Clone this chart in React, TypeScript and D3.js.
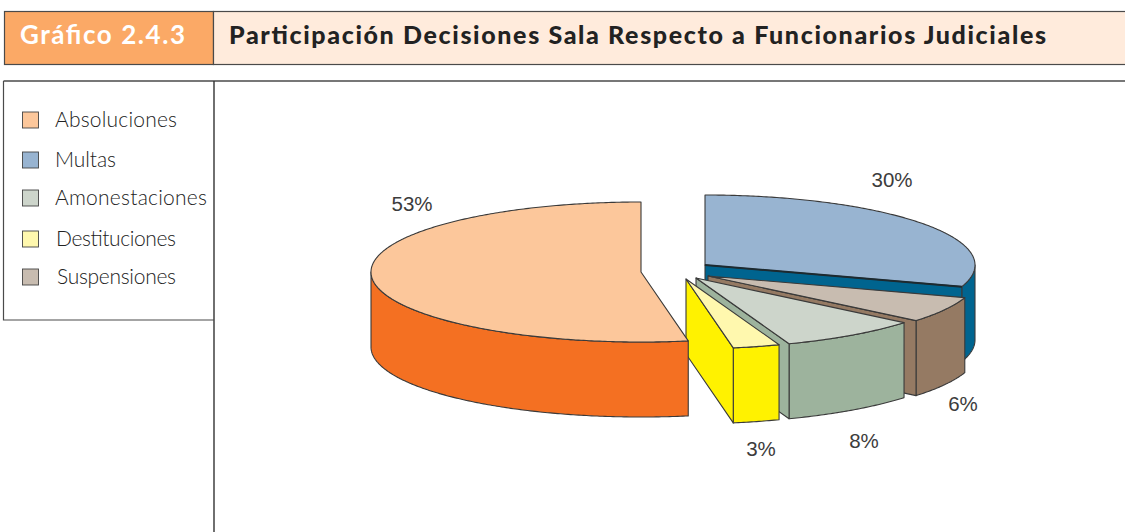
import React from "react";
import * as d3 from "d3";

const W = 1125, H = 532;
const FUTURA = "Lato, 'Open Sans', sans-serif";
const ARIAL = "'Liberation Sans', Arial, sans-serif";

const chipTitle = "Gráfico 2.4.3";
const mainTitle = "Participación Decisiones Sala Respecto a Funcionarios Judiciales";

// clockwise from 12 o'clock, as in the picture
const categories = ["Multas", "Suspensiones", "Amonestaciones", "Destituciones", "Absoluciones"];
const shares = [30, 6, 8.4, 2.8, 52.8];
const shareLabels = ["30%", "6%", "8%", "3%", "53%"];
const legendOrder = ["Absoluciones", "Multas", "Amonestaciones", "Destituciones", "Suspensiones"];

const topColors: Record<string, string> = { Absoluciones: "#FCC79B", Multas: "#98B4D1", Amonestaciones: "#CDD5CB", Destituciones: "#FFF8AE", Suspensiones: "#C8BCB0" };
const sideColors: Record<string, string> = { Absoluciones: "#F47022", Multas: "#00648F", Amonestaciones: "#9DB39D", Destituciones: "#FFF200", Suspensiones: "#957A63" };
const centers: Record<string, [number, number]> = { Multas: [705, 265], Suspensiones: [708, 276], Amonestaciones: [696, 278], Destituciones: [686, 279], Absoluciones: [641, 272] };
const labelPos: Record<string, [number, number]> = { Multas: [892, 187], Suspensiones: [963, 411], Amonestaciones: [864, 448], Destituciones: [761, 456], Absoluciones: [412, 211] };
const legendY = [120, 160, 198, 239, 277];
const legendTextX = [55, 55, 55, 56, 57];
const legendTextLen = [122, 61, 152, 120, 119];

const RX = 270, RY = 70, DEPTH = 75;
const line = d3.line<[number, number]>();
const sx = d3.scaleLinear().domain([0, 1]).range([0, RX]);
const sy = d3.scaleLinear().domain([0, 1]).range([0, RY]);

const pt = (c: [number, number], a: number, dy = 0): [number, number] =>
  [c[0] + sx(Math.sin(a)), c[1] - sy(Math.cos(a)) + dy];

const arcPts = (c: [number, number], a0: number, a1: number, dy = 0): [number, number][] => {
  const n = Math.max(2, Math.ceil(Math.abs(a1 - a0) / 0.01));
  return d3.range(n + 1).map((i) => pt(c, a0 + ((a1 - a0) * i) / n, dy));
};

const pieArcs = d3.pie<number>().sort(null).startAngle(0).endAngle(2 * Math.PI)(shares);

export default function App() {
  const lineCol = "#3a3a3a";
  return (
    <svg width={W} height={H} style={{ position: "absolute", left: 0, top: 0, background: "#fff" }}>
      {/* header */}
      <rect x={4.5} y={11.5} width={209} height={53} fill="#FBA966" stroke="#4a4a4a" strokeWidth={1.2} />
      <rect x={213.5} y={11.5} width={913} height={53} fill="#FFEBDC" stroke="#4a4a4a" strokeWidth={1.2} />
      <text x={20} y={44} fontFamily={FUTURA} fontWeight={700} fontSize={26} fill="#fff" textLength={165}>{chipTitle}</text>
      <text x={229} y={44} fontFamily={FUTURA} fontWeight={900} fontSize={25} fill="#222" textLength={817}>{mainTitle}</text>

      {/* frame */}
      <path d={`M3.5 81 H${W}`} stroke="#4a4a4a" strokeWidth={1.4} fill="none" />
      <path d={`M214 81 V${H}`} stroke="#333" strokeWidth={1.4} fill="none" />
      <path d="M3.5 81 V320 H214" stroke="#4a4a4a" strokeWidth={1.2} fill="none" />

      {/* legend */}
      {legendOrder.map((name, i) => (
        <g key={name}>
          <rect x={22.5} y={legendY[i] - 8} width={16} height={16} fill={topColors[name]} stroke="#444" strokeWidth={0.9} />
          <text x={legendTextX[i]} y={legendY[i] + 7} fontFamily={FUTURA} fontWeight={300} fontSize={21} fill="#222" textLength={legendTextLen[i]}>{name}</text>
        </g>
      ))}

      {/* exploded pie */}
      {pieArcs.map((d, i) => {
        const name = categories[i];
        const c = centers[name];
        const a0 = d.startAngle, a1 = d.endAngle;
        const w0 = Math.max(a0, Math.PI / 2), w1 = Math.min(a1, (3 * Math.PI) / 2);
        const hasWall = w1 > w0;
        const cutFront = a1 < Math.PI;
        const tip = c;
        const end = pt(c, a1);
        const wall = hasWall ? [...arcPts(c, w0, w1), ...arcPts(c, w1, w0, DEPTH)] : [];
        const cut: [number, number][] = [tip, end, [end[0], end[1] + DEPTH], [tip[0], tip[1] + DEPTH]];
        const top: [number, number][] = [tip, ...arcPts(c, a0, a1)];
        return (
          <g key={name} stroke={lineCol} strokeWidth={1.1} strokeLinejoin="round">
            {hasWall && <path d={line(wall) + "Z"} fill={sideColors[name]} />}
            {cutFront && <path d={line(cut) + "Z"} fill={sideColors[name]} />}
            <path d={line(top) + "Z"} fill={topColors[name]} />
            {name === "Multas" && <path d={line([tip, end]) as string} fill="none" stroke="#1c2a30" strokeWidth={2} />}
          </g>
        );
      })}

      {/* value labels */}
      {categories.map((name, i) => (
        <text key={name} x={labelPos[name][0]} y={labelPos[name][1]} textAnchor="middle" fontFamily={ARIAL} fontSize={20.5} fill="#3c3c3c">{shareLabels[i]}</text>
      ))}
    </svg>
  );
}
